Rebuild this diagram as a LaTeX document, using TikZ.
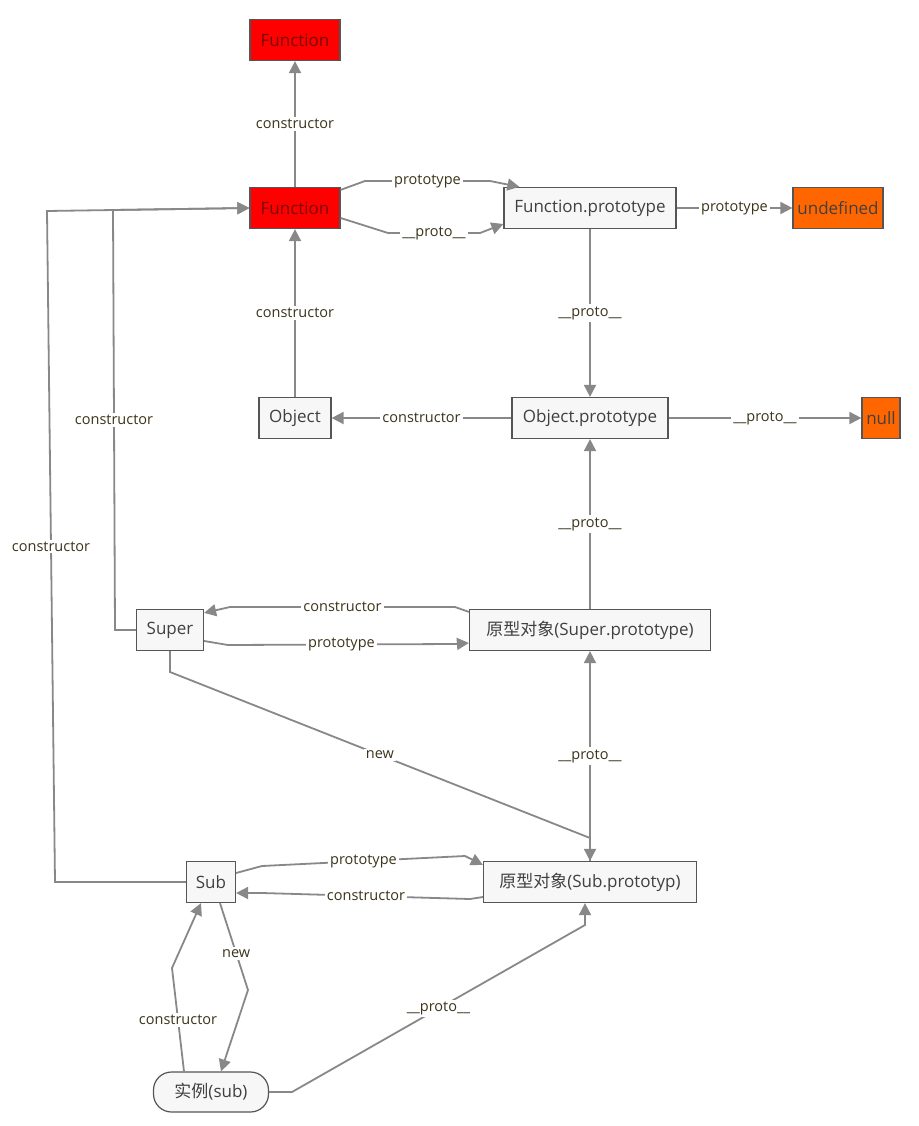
\documentclass[tikz,border=0pt]{standalone}
\usepackage{fontspec}
\setmainfont{Open Sans}
\newfontfamily\cjk{Noto Sans CJK SC}
\usetikzlibrary{arrows.meta}
\definecolor{edgegray}{RGB}{136,136,136}
\definecolor{boxline}{RGB}{85,85,85}
\definecolor{boxfill}{RGB}{247,247,247}
\definecolor{lbltext}{RGB}{58,52,26}
\definecolor{fnred}{RGB}{255,0,0}
\definecolor{fntext}{RGB}{120,10,10}
\definecolor{endorange}{RGB}{255,102,0}

\begin{document}
\begin{tikzpicture}[x=1pt, y=-1pt, >={Triangle[length=12pt,width=12pt]}]
\tikzstyle{block} = [rectangle, draw=boxline, line width=1.2pt, fill=boxfill, text=black!75,
                     minimum height=41pt, inner xsep=4pt, font=\fontsize{17}{20}\selectfont]
\tikzstyle{fnblock} = [block, fill=fnred, text=fntext, minimum width=90pt]
\tikzstyle{endblock} = [block, fill=endorange]
\tikzstyle{line} = [draw=edgegray, line width=1.8pt, ->]
\tikzstyle{lbl} = [fill=white, text=lbltext, inner sep=2pt, font=\fontsize{14.5}{16}\selectfont]

\useasboundingbox (0,0) rectangle (918,1126);

\node [fnblock] (fn) at (295,208) {Function};
\node [fnblock, above of=fn, node distance=168pt] (ftop) {Function};
\node [block, right of=fn, node distance=295pt, minimum width=172pt] (fproto) {Function.prototype};
\node [endblock, right of=fproto, node distance=248pt, minimum width=90pt] (undef) {undefined};
\node [block, below of=fproto, node distance=210pt, minimum width=156pt] (oproto) {Object.prototype};
\node [block, left of=oproto, node distance=295pt, minimum width=72pt] (obj) {Object};
\node [endblock, right of=oproto, node distance=291pt, minimum width=38pt] (null) {null};
\node [block, below of=oproto, node distance=212pt, minimum width=241pt] (supproto) {{\cjk 原型对象}(Super.prototype)};
\node [block, left of=supproto, node distance=420pt, minimum width=67pt] (super) {Super};
\node [block, below of=supproto, node distance=252pt, minimum width=213pt] (subproto) {{\cjk 原型对象}(Sub.prototyp)};
\node [block, left of=subproto, node distance=379pt, minimum width=49pt] (sub) {Sub};
\node [block, rounded corners=18pt, below of=sub, node distance=210pt, minimum width=115pt, minimum height=40pt] (inst) {{\cjk 实例}(sub)};

% Function
\path [line] (fn) -- node[lbl] {constructor} (ftop);
\path [line] ([yshift=-3pt]fn.north east) -- (365,181) -- node[lbl] {prototype} (490,181) -- ([xshift=16pt]fproto.north west);
\path [line] ([yshift=-10pt]fn.east) -- (388,233) -- node[lbl] {\_\_proto\_\_} (480,233) -- ([yshift=-16pt]fproto.west);
\path [line] (fproto) -- node[lbl] {prototype} (undef);
\path [line] (fproto) -- node[lbl] {\_\_proto\_\_} (oproto);

% Object
\path [line] (oproto) -- node[lbl] {constructor} (obj);
\path [line] (obj) -- node[lbl] {constructor} (fn);
\path [line] (oproto) -- node[lbl] {\_\_proto\_\_} (null);

% Super
\path [line] (supproto) -- node[lbl] {\_\_proto\_\_} (oproto);
\path [line] ([yshift=-3pt]supproto.north west) -- (455,607) -- node[lbl] {constructor} (230,607) -- ([yshift=-4pt]super.north east);
\path [line] ([yshift=-11pt]super.east) -- (228,645) -- node[lbl] {prototype} (455,644) -- ([yshift=-13pt]supproto.west);
\path [line] (super.west) -- (115,630) -- node[lbl] {constructor} (113,210) -- (fn.west);
\path [line] (super.south) -- (170,672) -- node[lbl] {new} (590,838) -- (subproto.north);

% Sub
\path [line] (subproto) -- node[lbl] {\_\_proto\_\_} (supproto);
\path [line] ([yshift=9pt]sub.east) -- (262,866) -- node[lbl] {prototype} (465,856) -- ([yshift=-4pt]subproto.north west);
\path [line] ([yshift=-15pt]subproto.west) -- (470,899) -- node[lbl] {constructor} (262,893) -- ([yshift=-11pt]sub.east);
\path [line] (sub.west) -- (55,882) -- node[lbl] {constructor} (47,211) -- (fn.west);

% instance
\path [line] ([xshift=9pt]sub.south) -- node[lbl, pos=.58] {new} (248,990) -- ([xshift=10pt]inst.north);
\path [line] ([xshift=-27pt]inst.north) -- node[lbl] {constructor} (172,968) -- ([xshift=-10pt]sub.south);
\path [line] (inst.east) -- (292,1092) -- node[lbl] {\_\_proto\_\_} (585,925) -- ([xshift=-5pt]subproto.south);
\end{tikzpicture}
\end{document}
